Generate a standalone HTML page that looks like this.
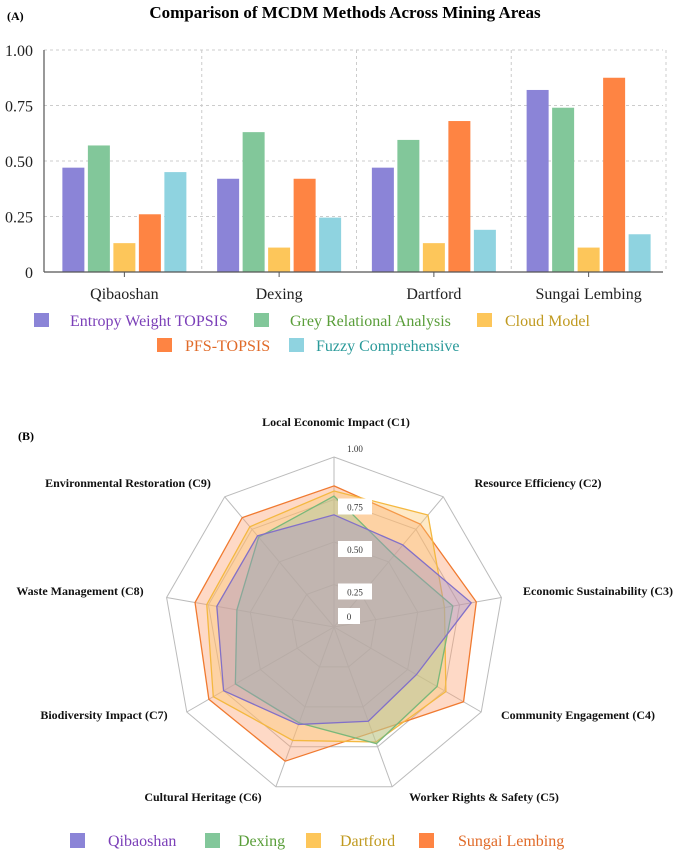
<!DOCTYPE html>
<html><head><meta charset="utf-8"><style>
body{margin:0;background:#fff;}
svg text{font-family:"Liberation Serif",serif;}
</style></head><body>
<svg id="s" width="685" height="853" xmlns="http://www.w3.org/2000/svg" font-family="Liberation Serif, serif">
<text x="7" y="20" font-size="12" font-weight="bold">(A)</text>
<text x="345" y="18" font-size="17" font-weight="bold" text-anchor="middle">Comparison of MCDM Methods Across Mining Areas</text>
<g id="bars"></g>
<text x="18" y="440" font-size="12" font-weight="bold">(B)</text>
<g id="radar"></g>
</svg>
<script>
const areas=["Qibaoshan","Dexing","Dartford","Sungai Lembing"];
const methods=["Entropy Weight TOPSIS","Grey Relational Analysis","Cloud Model","PFS-TOPSIS","Fuzzy Comprehensive"];
const entropy=[0.47,0.42,0.47,0.82];
const grey=[0.57,0.63,0.595,0.74];
const cloud=[0.13,0.11,0.13,0.11];
const pfs=[0.26,0.42,0.68,0.875];
const fuzzy=[0.45,0.245,0.19,0.17];
const yTicks=[0,0.25,0.5,0.75,1];
const yTickLabels=["0","0.25","0.50","0.75","1.00"];

const criteria=["Local Economic Impact (C1)","Resource Efficiency (C2)","Economic Sustainability (C3)","Community Engagement (C4)","Worker Rights & Safety (C5)","Cultural Heritage (C6)","Biodiversity Impact (C7)","Waste Management (C8)","Environmental Restoration (C9)"];
const qibaoshan=[0.66,0.63,0.82,0.56,0.59,0.61,0.75,0.70,0.70];
const dexing=[0.77,0.55,0.71,0.70,0.73,0.60,0.67,0.58,0.69];
const dartford=[0.80,0.86,0.66,0.76,0.72,0.71,0.82,0.76,0.77];
const sungai=[0.83,0.79,0.85,0.88,0.66,0.84,0.85,0.83,0.84];
const rTicks=[0,0.25,0.5,0.75,1];
const rTickLabels=["0","0.25","0.50","0.75","1.00"];

const NS="http://www.w3.org/2000/svg";
const FF="Liberation Serif, serif";
function mk(p,t,a,txt){const e=document.createElementNS(NS,t);for(const k in a)e.setAttribute(k,a[k]);if(txt!==undefined){e.textContent=txt;e.setAttribute("font-family",FF);}p.appendChild(e);return e;}
const colors=["#8b84d7","#82c79a","#fdc65a","#fe8443","#8fd3e0"];
const tcolors=["#7b3fb8","#5a9e3a","#c09a20","#e06a28","#2a9a9a"];

// bar chart
const B=document.getElementById("bars");
const x0=44,x1=663,yTop=50,yBot=272;
const ys=v=>yBot-(yBot-yTop)*v;
const gw=(x1-x0)/4;
const gx=i=>x0+gw*(i+0.5)+3;
yTicks.forEach((t,i)=>{
  if(t>0){const l=mk(B,"line",{x1:x0,x2:x1,y1:ys(t),y2:ys(t),stroke:"#ccc","stroke-dasharray":"3,3"});
  }
  const tx=mk(B,"text",{x:33,y:ys(t)+6,"font-size":16,"text-anchor":"end",fill:"#222"},yTickLabels[i]);
  
});
for(let i=1;i<=4;i++){const xx=x0+gw*i+3;
  const l=mk(B,"line",{x1:xx,x2:xx,y1:yTop,y2:yBot,stroke:"#ccc","stroke-dasharray":"3,3"});
  }
const series=[entropy,grey,cloud,pfs,fuzzy];
areas.forEach((a,i)=>{
  series.forEach((s,j)=>{
    const bx=gx(i)+(j-2)*25.5-11;
    const r=mk(B,"rect",{x:bx,y:ys(s[i]),width:22,height:yBot-ys(s[i]),fill:colors[j]});
    
    
  });
  const tk=mk(B,"line",{x1:gx(i),x2:gx(i),y1:yBot,y2:yBot+5,stroke:"#555"});
  
  const t=mk(B,"text",{x:gx(i),y:299,"font-size":16,"text-anchor":"middle",fill:"#222"},a);
  
});
const ax=mk(B,"line",{x1:x0,x2:x1,y1:yBot,y2:yBot,stroke:"#555","stroke-width":1.2});

const ay=mk(B,"line",{x1:x0,x2:x0,y1:yTop,y2:yBot,stroke:"#555","stroke-width":1.2});

const legPos=[[34,320,70],[254,320,290],[477,320,505],[157,345,185],[289,345,316]];
methods.forEach((m,j)=>{
  const [lx,ly,tx]=legPos[j];
  const r=mk(B,"rect",{x:lx,y:ly-7,width:15,height:14,fill:colors[j]});
  
  const t=mk(B,"text",{x:tx,y:ly+6,"font-size":16,fill:tcolors[j]},m);
  
});

// radar
const R=document.getElementById("radar");
const cx=334,cy=627,RR=170,N=9;
const pt=(k,v)=>{const a=k*2*Math.PI/N;return [cx+RR*v*Math.sin(a),cy-RR*v*Math.cos(a)];};
rTicks.forEach(t=>{if(t===0)return;
  const pts=[];for(let k=0;k<N;k++)pts.push(pt(k,t).join(","));
  const p=mk(R,"polygon",{points:pts.join(" "),fill:"none",stroke:"#bbb","stroke-width":1});
  
});
for(let k=0;k<N;k++){const [px,py]=pt(k,1);
  const l=mk(R,"line",{x1:cx,y1:cy,x2:px,y2:py,stroke:"#bbb"});
  }
const rseries=[qibaoshan,dexing,dartford,sungai];
const rnames=["Qibaoshan","Dexing","Dartford","Sungai Lembing"];
const rfill=["#a090c8","#9ec89a","#fdc870","#fca070"];
const rstroke=["#8270c8","#7ab87a","#f4b840","#f07a30"];
[3,2,1,0].forEach(j=>{
  const pts=rseries[j].map((v,k)=>pt(k,v).join(","));
  const p=mk(R,"polygon",{points:pts.join(" "),fill:rfill[j],"fill-opacity":0.4,stroke:rstroke[j],"stroke-width":1.3});
  
  
});
rTicks.forEach((t,i)=>{
  const y=cy-RR*t;
  if(t<1){const bg=mk(R,"rect",{x:cx+4,y:t==0?y-19:y-1,width:t==0?22:34,height:16,fill:"#fff"});
    }
  const tx=mk(R,"text",{x:cx+(t==0?15:21),y:t==0?y-7:(t==1?y-5:y+11),"font-size":9,"text-anchor":"middle",fill:"#333"},rTickLabels[i]);
  
});
const lab=[[336,426,"middle"],[538,487,"middle"],[598,595,"middle"],[578,719,"middle"],[484,801,"middle"],[203,801,"middle"],[104,719,"middle"],[80,595,"middle"],[128,487,"middle"]];
criteria.forEach((c,k)=>{
  const t=mk(R,"text",{x:lab[k][0],y:lab[k][1],"font-size":12,"font-weight":"bold","text-anchor":lab[k][2],fill:"#111"},c);
  
});
const rl=[[70,108],[205,238],[306,340],[419,458]];
rnames.forEach((n,j)=>{
  const r=mk(R,"rect",{x:rl[j][0],y:833,width:15,height:15,fill:colors[j]});
  
  const t=mk(R,"text",{x:rl[j][1],y:846,"font-size":16,fill:tcolors[j]},n);
  
});
</script>
</body></html>
